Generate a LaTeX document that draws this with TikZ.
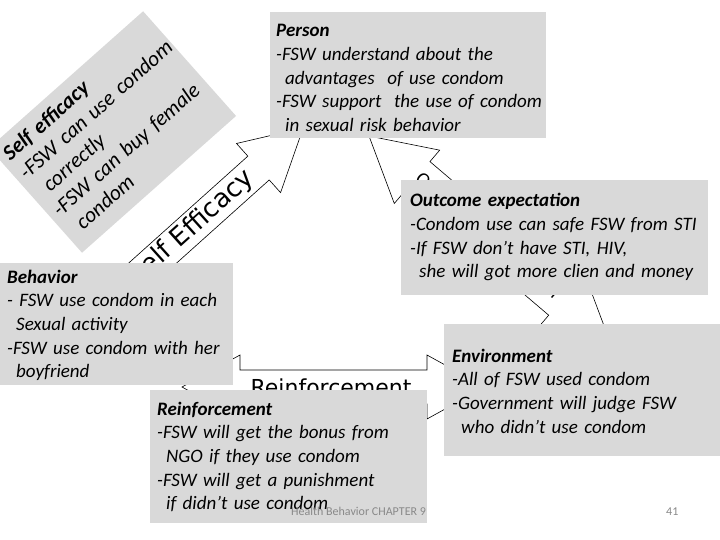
\documentclass[tikz,border=0pt]{standalone}
\usepackage{fontspec}
\setmainfont{Carlito}
\newfontfamily\arrowfont{DejaVu Sans}
\definecolor{boxgray}{RGB}{217,217,217}
\definecolor{footgray}{RGB}{137,137,137}
\newcommand{\lineindent}{\hspace*{9pt}}

\begin{document}
\begin{tikzpicture}[
    x=1pt,y=-1pt,
    greybox/.style={fill=boxgray,inner sep=0pt,anchor=north west},
    boxtext/.style={anchor=base west,align=left,inner sep=0pt,text width=300pt,font=\fontsize{19}{23.7}\selectfont\itshape},
    blockarrow/.style={draw=black,fill=white,line width=0.6pt,line join=miter},
    arrowlabel/.style={inner sep=0pt,font=\arrowfont\fontsize{#1}{#1}\selectfont},
    foot/.style={text=footgray,inner sep=0pt,anchor=base west,font=\fontsize{12}{14}\selectfont}
  ]
  \useasboundingbox (0,0) rectangle (720,540);

  % the three double arrows
  \begin{scope}[shift={(68,339)},rotate=41.9,transform shape]
    \draw[blockarrow] (0,0) -- (60,-33) -- (60,-16) -- (256,-16) -- (256,-33) -- (316,0)
      -- (256,33) -- (256,16) -- (60,16) -- (60,33) -- cycle;
    \node[arrowlabel=26] (efficacy) at (166,0) {Self Efficacy};
  \end{scope}
  \begin{scope}[shift={(369,136)},rotate=-40.4,transform shape]
    \draw[blockarrow] (0,0) -- (63,-35) -- (63,-20) -- (253,-20) -- (253,-35) -- (316,0)
      -- (253,35) -- (253,20) -- (63,20) -- (63,35) -- cycle;
    \node[arrowlabel=17] (outcome) at (155,0) {Outcome expectation};
  \end{scope}
  \begin{scope}[shift={(182,387)}]
    \draw[blockarrow] (0,0) -- (58,-32) -- (58,-17) -- (245,-17) -- (245,-32) -- (303,0)
      -- (245,32) -- (245,17) -- (58,17) -- (58,32) -- cycle;
    \node[arrowlabel=22] (reinf) at (149,0) {Reinforcement};
  \end{scope}

  % tilted note
  \begin{scope}[shift={(82,253)},rotate=41.6,transform shape]
    \node[greybox,anchor=south west,minimum width=206pt,minimum height=140pt] (selfbox) at (0,0) {};
    \node[boxtext,font=\fontsize{21.5}{25}\selectfont\itshape] (selftext) at (7,-116) {\textbf{Self efficacy}\\-FSW can use condom\\\lineindent correctly\\-FSW can buy female\\\lineindent condom};
  \end{scope}

  % notes
  \node[greybox,minimum width=276pt,minimum height=126pt] (person) at (270,12) {};
  \node[boxtext] (persontext) at (276,36.7) {\textbf{Person}\\-FSW understand about the\\\lineindent advantages\ \ of use condom\\-FSW support\ \ the use of condom\\\lineindent in sexual risk behavior};

  \node[greybox,minimum width=307pt,minimum height=115pt] (outbox) at (401,180) {};
  \node[boxtext] (outtext) at (410,206.7) {\textbf{Outcome expectation}\\-Condom use can safe FSW from STI\\-If FSW don’t have STI, HIV,\\\lineindent she will got more clien and money};

  \node[greybox,minimum width=233pt,minimum height=122pt] (behavior) at (0,263) {};
  \node[boxtext] (behtext) at (7,283) {\textbf{Behavior}\\- FSW use condom in each\\\lineindent Sexual activity\\-FSW use condom with her\\\lineindent boyfriend};

  \node[greybox,minimum width=277pt,minimum height=133pt] (reinbox) at (150,390) {};
  \node[boxtext] (reintext) at (157,415) {\textbf{Reinforcement}\\-FSW will get the bonus from\\\lineindent NGO if they use condom\\-FSW will get a punishment\\\lineindent if didn’t use condom};

  \node[greybox,minimum width=276pt,minimum height=132pt] (environment) at (444,324) {};
  \node[boxtext] (envtext) at (452,362) {\textbf{Environment}\\-All of FSW used condom\\-Government will judge FSW\\\lineindent who didn’t use condom};

  % footer
  \node[foot] (chapter) at (291,515) {Health Behavior CHAPTER 9};
  \node[foot] (pageno) at (666,515) {41};
\end{tikzpicture}
\end{document}
